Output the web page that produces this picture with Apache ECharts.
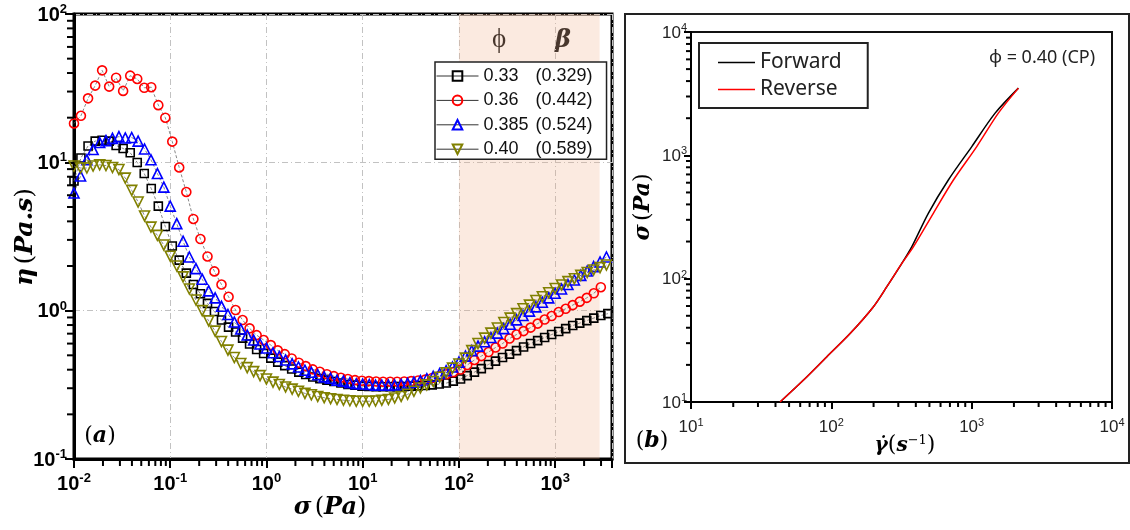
<!DOCTYPE html>
<html>
<head>
<meta charset="utf-8">
<script src="https://cdn.jsdelivr.net/npm/echarts@6/dist/echarts.min.js"></script>
<style>
  html, body { margin: 0; padding: 0; background: #fff; }
  #chart { width: 1130px; height: 530px; }
</style>
</head>
<body>
<div id="chart"></div>
<script>
// ---------- Panel (a): viscosity η vs shear stress σ ----------
const phiLabels  = ['0.33', '0.36', '0.385', '0.40'];
const betaLabels = ['(0.329)', '(0.442)', '(0.524)', '(0.589)'];

// stress ramp used for φ = 0.33 and 0.36 (Pa)
const stressA = [
  0.01, 0.0118, 0.014, 0.0166, 0.0196, 0.0232, 0.0274, 0.0324, 0.0384, 0.0454,
  0.0537, 0.0635, 0.0752, 0.0889, 0.105, 0.124, 0.147, 0.174, 0.206, 0.244,
  0.288, 0.341, 0.404, 0.478, 0.565, 0.668, 0.791, 0.935, 1.11, 1.31,
  1.55, 1.83, 2.17, 2.56, 3.03, 3.59, 4.25, 5.02, 5.94, 7.03,
  8.32, 9.84, 11.6, 13.8, 16.3, 19.3, 22.8, 27.0, 31.9, 37.8,
  44.7, 52.8, 62.5, 74.0, 87.5, 104, 122, 145, 171, 203,
  240, 284, 336, 397, 470, 556, 658, 778, 920, 1089,
  1288, 1524, 1803, 2133, 2523, 2985, 3532
];
// stress ramp used for φ = 0.385 and 0.40 (Pa)
const stressB = [
  0.01, 0.0117, 0.0136, 0.0158, 0.0185, 0.0215, 0.0251, 0.0293, 0.0341, 0.0398,
  0.0464, 0.0541, 0.0631, 0.0736, 0.0858, 0.1, 0.117, 0.136, 0.158, 0.185,
  0.215, 0.251, 0.293, 0.341, 0.398, 0.464, 0.541, 0.631, 0.736, 0.858,
  1, 1.17, 1.36, 1.58, 1.85, 2.15, 2.51, 2.93, 3.41, 3.98,
  4.64, 5.41, 6.31, 7.36, 8.58, 10, 11.7, 13.6, 15.8, 18.5,
  21.5, 25.1, 29.3, 34.1, 39.8, 46.4, 54.1, 63.1, 73.6, 85.8,
  100, 117, 136, 158, 185, 215, 251, 293, 341, 398,
  464, 541, 631, 736, 858, 1000, 1166, 1359, 1585, 1848,
  2154, 2512, 2929, 3415
];

const eta033 = [
  7.48, 10.7, 12.9, 13.9, 14.1, 13.9, 13.0, 12.4, 11.6, 9.97,
  8.40, 6.66, 5.07, 3.69, 2.73, 2.19, 1.79, 1.50, 1.30, 1.12,
  0.986, 0.865, 0.775, 0.718, 0.653, 0.596, 0.547, 0.514, 0.479, 0.450,
  0.426, 0.404, 0.385, 0.371, 0.357, 0.348, 0.340, 0.333, 0.325, 0.318,
  0.315, 0.310, 0.308, 0.307, 0.307, 0.307, 0.307, 0.308, 0.310, 0.311,
  0.313, 0.316, 0.320, 0.325, 0.335, 0.346, 0.365, 0.385, 0.407, 0.434,
  0.457, 0.483, 0.509, 0.538, 0.569, 0.600, 0.628, 0.659, 0.690, 0.723,
  0.757, 0.794, 0.824, 0.857, 0.891, 0.927, 0.955
];
const eta036 = [
  18.3, 20.6, 27.0, 32.9, 41.7, 32.4, 37.2, 30.3, 38.4, 36.5,
  31.8, 32.1, 24.3, 20.0, 13.8, 9.23, 6.31, 4.15, 3.04, 2.32,
  1.84, 1.50, 1.24, 1.01, 0.865, 0.760, 0.684, 0.634, 0.586, 0.540,
  0.509, 0.476, 0.446, 0.423, 0.402, 0.387, 0.373, 0.362, 0.353, 0.346,
  0.340, 0.337, 0.335, 0.333, 0.332, 0.332, 0.332, 0.333, 0.335, 0.338,
  0.343, 0.352, 0.362, 0.373, 0.385, 0.401, 0.430, 0.465, 0.494, 0.526,
  0.564, 0.600, 0.649, 0.690, 0.728, 0.769, 0.818, 0.871, 0.920, 0.979,
  1.03, 1.09, 1.15, 1.22, 1.31, 1.44
];
const eta0385 = [
  6.21, 8.09, 10.4, 12.2, 13.6, 14.0, 14.5, 14.9, 14.6, 14.7,
  13.9, 12.3, 10.4, 8.40, 6.81, 5.07, 3.86, 2.94, 2.30, 1.92,
  1.63, 1.36, 1.22, 1.07, 0.942, 0.838, 0.752, 0.685, 0.634, 0.596,
  0.560, 0.520, 0.491, 0.465, 0.438, 0.417, 0.397, 0.384, 0.370, 0.358,
  0.350, 0.340, 0.335, 0.327, 0.322, 0.320, 0.318, 0.315, 0.315, 0.315,
  0.315, 0.318, 0.324, 0.330, 0.338, 0.348, 0.361, 0.377, 0.394, 0.417,
  0.450, 0.494, 0.538, 0.577, 0.617, 0.659, 0.706, 0.757, 0.809, 0.867,
  0.927, 0.993, 1.06, 1.14, 1.22, 1.31, 1.40, 1.50, 1.61, 1.73,
  1.85, 1.98, 2.13, 2.30
];
const eta040 = [
  9.44, 9.16, 9.16, 9.44, 9.62, 9.51, 9.23, 8.94, 7.83, 6.47,
  5.40, 4.35, 3.66, 3.22, 2.77, 2.33, 2.00, 1.69, 1.40, 1.18,
  1.00, 0.853, 0.728, 0.619, 0.542, 0.483, 0.440, 0.413, 0.388, 0.365,
  0.346, 0.330, 0.318, 0.306, 0.296, 0.286, 0.277, 0.271, 0.264, 0.259,
  0.255, 0.252, 0.249, 0.247, 0.245, 0.245, 0.245, 0.246, 0.249, 0.252,
  0.258, 0.264, 0.273, 0.286, 0.301, 0.316, 0.333, 0.356, 0.381, 0.410,
  0.437, 0.479, 0.538, 0.600, 0.653, 0.706, 0.764, 0.832, 0.891, 0.955,
  1.03, 1.09, 1.17, 1.24, 1.32, 1.41, 1.49, 1.57, 1.64, 1.73,
  1.81, 1.88, 1.95, 2.03
];

// shaded shear-thickening band (Pa)
const bandStress = [100, 2900];

// ---------- Panel (b): flow curve, forward / reverse ramp ----------
const rateFwd   = [43.1, 63.1, 92.6, 136, 199, 248, 318, 374, 491, 682, 1002, 1469, 2153];
const stressFwd = [10.0, 15.0, 23.2, 35.9, 59.0, 85.7, 133, 181, 339, 631, 1178, 2198, 3508];
const rateRev   = [43.1, 63.1, 92.6, 136, 199, 248, 318, 384, 533, 741, 1087, 1549, 2153];
const stressRev = [10.0, 15.0, 23.2, 35.9, 59.0, 85.7, 133, 181, 339, 631, 1178, 2198, 3508];

// axis decades (exponents of the labelled ticks)
const decadesAX = [-2, -1, 0, 1, 2, 3];
const decadesAY = [-1, 0, 1, 2];
const decadesBX = [1, 2, 3, 4];
const decadesBY = [1, 2, 3, 4];
const minorMantissas = [2, 3, 4, 5, 6, 7, 8, 9];

const pairs = (xs, ys) => ys.map((y, i) => [xs[i], y]);

// "10" with a raised exponent, only on whole decades
function decadeFormatter(decades) {
  return function (v) {
    const lg = Math.log10(v);
    const e = Math.round(lg);
    if (Math.abs(lg - e) > 1e-6 || decades.indexOf(e) < 0) return '';
    return '{b|10}{s|' + (e < 0 ? '-' + (-e) : String(e)) + '}';
  };
}

// minor tick positions 2..9 within each decade
function minorValues(decades, lo, hi) {
  const out = [];
  for (let d = decades[0] - 1; d <= decades[decades.length - 1]; d++) {
    minorMantissas.forEach(m => {
      const v = m * Math.pow(10, d);
      if (v > lo && v < hi) out.push(v);
    });
  }
  return out;
}

// short outward tick strokes placed through the axis scale
function minorTicks(xi, yi, pts, dir, len, width) {
  return {
    type: 'custom', xAxisIndex: xi, yAxisIndex: yi, data: pts,
    silent: true, clip: false, z: 6,
    renderItem: function (params, api) {
      const p = api.coord([api.value(0), api.value(1)]);
      const shape = dir === 'down'
        ? { x1: p[0], y1: p[1], x2: p[0], y2: p[1] + len }
        : { x1: p[0], y1: p[1], x2: p[0] - len, y2: p[1] };
      return { type: 'line', shape: shape, style: { stroke: '#000', lineWidth: width } };
    }
  };
}

const A_XMIN = 0.01, A_XMAX = 3900, A_YMIN = 0.1, A_YMAX = 100;
const B_MIN = 10, B_MAX = 10000;

const boldLabelRich = {
  b: { fontSize: 20, fontWeight: 'bold', fontFamily: '"Liberation Sans", Arial', color: '#000', verticalAlign: 'bottom', padding: [2, 0, 0, 0] },
  s: { fontSize: 13, fontWeight: 'bold', fontFamily: '"Liberation Sans", Arial', color: '#000', verticalAlign: 'top' }
};
const thinLabelRich = {
  b: { fontSize: 17, fontFamily: '"Liberation Sans Narrow", "Liberation Sans", Arial', color: '#222', verticalAlign: 'bottom', padding: [2, 0, 0, 0] },
  s: { fontSize: 11, fontFamily: '"Liberation Sans Narrow", "Liberation Sans", Arial', color: '#222', verticalAlign: 'top' }
};

const splitDash = { show: true, lineStyle: { color: '#c2c2c2', width: 1, type: [6, 3, 1, 3] } };

const markerSeries = [
  { name: phiLabels[0], data: pairs(stressA, eta033), symbol: 'rect', symbolSize: 8, color: '#000000' },
  { name: phiLabels[1], data: pairs(stressA, eta036), symbol: 'circle', symbolSize: 9, color: '#ff0000' },
  { name: phiLabels[2], data: pairs(stressB, eta0385), symbol: 'triangle', symbolSize: 10, color: '#0000ff' },
  { name: phiLabels[3], data: pairs(stressB, eta040), symbol: 'triangle', symbolSize: 10, color: '#808000', rotate: 180 }
].map(s => ({
  type: 'line', name: s.name, xAxisIndex: 0, yAxisIndex: 0, data: s.data,
  symbol: s.symbol, symbolSize: s.symbolSize, symbolRotate: s.rotate || 0,
  showSymbol: true, z: 3,
  itemStyle: { color: 'rgba(255,255,255,0)', borderColor: s.color, borderWidth: 1.6 },
  lineStyle: { color: '#6a6a6a', width: 0.8, type: [3, 2] },
  emphasis: { disabled: true }
}));

const axisNameRich = size => ({
  i: { fontSize: size, fontStyle: 'italic', fontWeight: 'bold', fontFamily: '"DejaVu Serif"', fill: '#000' },
  p: { fontSize: size, fontFamily: '"DejaVu Serif"', fill: '#000' }
});

const option = {
  animation: false,
  backgroundColor: '#ffffff',
  grid: [
    { left: 74, top: 14, width: 538, height: 445, show: true, borderColor: '#000', borderWidth: 3, backgroundColor: 'rgba(0,0,0,0)' },
    { left: 691, top: 32, width: 421, height: 370, show: true, borderColor: '#111', borderWidth: 2, backgroundColor: 'rgba(0,0,0,0)' }
  ],
  xAxis: [
    {
      gridIndex: 0, type: 'log', logBase: 10, min: A_XMIN, max: A_XMAX,
      axisLine: { show: true, lineStyle: { color: '#000', width: 3 } },
      axisTick: { show: true, inside: false, length: 9, lineStyle: { color: '#000', width: 2 } },
      axisLabel: { margin: 13, formatter: decadeFormatter(decadesAX), rich: boldLabelRich },
      splitLine: splitDash
    },
    {
      gridIndex: 1, type: 'log', logBase: 10, min: B_MIN, max: B_MAX,
      axisLine: { show: true, lineStyle: { color: '#000', width: 2 } },
      axisTick: { show: true, inside: false, length: 7, lineStyle: { color: '#000', width: 2 } },
      axisLabel: { margin: 15, formatter: decadeFormatter(decadesBX), rich: thinLabelRich },
      splitLine: { show: false }
    }
  ],
  yAxis: [
    {
      gridIndex: 0, type: 'log', logBase: 10, min: A_YMIN, max: A_YMAX,
      axisLine: { show: true, lineStyle: { color: '#000', width: 3 } },
      axisTick: { show: true, inside: false, length: 9, lineStyle: { color: '#000', width: 2 } },
      axisLabel: { margin: 7, formatter: decadeFormatter(decadesAY), rich: boldLabelRich },
      splitLine: splitDash
    },
    {
      gridIndex: 1, type: 'log', logBase: 10, min: B_MIN, max: B_MAX,
      axisLine: { show: true, lineStyle: { color: '#000', width: 2 } },
      axisTick: { show: true, inside: false, length: 7, lineStyle: { color: '#000', width: 2 } },
      axisLabel: { margin: 4, formatter: decadeFormatter(decadesBY), rich: thinLabelRich },
      splitLine: { show: false }
    }
  ],
  legend: [
    {
      data: phiLabels, orient: 'vertical', left: 435, top: 62,
      padding: [5, 14, 1, 1], itemWidth: 42, itemHeight: 12, itemGap: 6.4,
      backgroundColor: '#ffffff', borderColor: '#222', borderWidth: 1.5, borderRadius: 0,
      selectedMode: false,
      lineStyle: { color: '#333', width: 1, type: 'solid' },
      formatter: name => '{a|' + name + '}{b|' + betaLabels[phiLabels.indexOf(name)] + '}',
      textStyle: {
        fontSize: 18, fontFamily: '"Liberation Sans", Arial', color: '#111', lineHeight: 18,
        rich: {
          a: { width: 52, fontSize: 18, fontFamily: '"Liberation Sans", Arial', color: '#111' },
          b: { fontSize: 18, fontFamily: '"Liberation Sans", Arial', color: '#111' }
        }
      }
    },
    {
      data: ['Forward', 'Reverse'], orient: 'vertical', left: 699, top: 43,
      padding: [9, 26, 8, 19], itemWidth: 37, itemHeight: 1.6, itemGap: 6,
      icon: 'rect',
      backgroundColor: '#ffffff', borderColor: '#222', borderWidth: 2, borderRadius: 0,
      selectedMode: false,
      textStyle: { fontSize: 21, fontFamily: '"Noto Sans", sans-serif', color: '#222', lineHeight: 20 }
    }
  ],
  series: [
    {
      type: 'line', name: 'band', xAxisIndex: 0, yAxisIndex: 0, data: [], z: 1, silent: true,
      markArea: {
        silent: true,
        itemStyle: { color: 'rgba(240,170,130,0.25)' },
        data: [[{ xAxis: bandStress[0] }, { xAxis: bandStress[1] }]]
      }
    },
    ...markerSeries,
    {
      type: 'line', name: 'Forward', xAxisIndex: 1, yAxisIndex: 1,
      data: pairs(rateFwd, stressFwd), symbol: 'none', smooth: 0.3, z: 3,
      itemStyle: { color: '#000' }, lineStyle: { color: '#000', width: 1.5 }
    },
    {
      type: 'line', name: 'Reverse', xAxisIndex: 1, yAxisIndex: 1,
      data: pairs(rateRev, stressRev), symbol: 'none', smooth: 0.3, z: 4,
      itemStyle: { color: '#ff0000' }, lineStyle: { color: '#ff0000', width: 1.5 }
    },
    minorTicks(0, 0, minorValues(decadesAX, A_XMIN, A_XMAX).map(v => [v, A_YMIN]), 'down', 7, 2),
    minorTicks(0, 0, minorValues(decadesAY, A_YMIN, A_YMAX).map(v => [A_XMIN, v]), 'left', 7, 2),
    minorTicks(1, 1, minorValues(decadesBX, B_MIN, B_MAX).map(v => [v, B_MIN]), 'down', 5, 2),
    minorTicks(1, 1, minorValues(decadesBY, B_MIN, B_MAX).map(v => [B_MIN, v]), 'left', 5, 2)
  ],
  graphic: [
    // outer frame of panel (b)
    { type: 'rect', silent: true, shape: { x: 625, y: 14, width: 504, height: 449 },
      style: { fill: 'none', stroke: '#222', lineWidth: 2 } },
    // column headers above the legend of panel (a)
    { type: 'text', x: 499, y: 40, silent: true,
      style: { text: 'ϕ', fontSize: 27, fontFamily: '"Liberation Serif", "DejaVu Serif"', fill: '#111', align: 'center', verticalAlign: 'middle' } },
    { type: 'text', x: 563, y: 41, silent: true,
      style: { text: 'β', fontSize: 24, fontStyle: 'italic', fontWeight: 'bold', fontFamily: '"DejaVu Serif"', fill: '#111', align: 'center', verticalAlign: 'middle' } },
    // panel tags
    { type: 'text', x: 100, y: 436, silent: true,
      style: { text: '{p|(}{i|a}{p|)}', align: 'center', verticalAlign: 'middle', rich: axisNameRich(22) } },
    { type: 'text', x: 652, y: 441, silent: true,
      style: { text: '{p|(}{i|b}{p|)}', align: 'center', verticalAlign: 'middle', rich: axisNameRich(22) } },
    // axis titles of panel (a)
    { type: 'text', x: 25, y: 237, rotation: Math.PI / 2, silent: true,
      style: { text: '{i|η} {p|(}{i|Pa.s}{p|)}', align: 'center', verticalAlign: 'middle', rich: axisNameRich(25) } },
    { type: 'text', x: 330, y: 508, silent: true,
      style: { text: '{i|σ} {p|(}{i|Pa}{p|)}', align: 'center', verticalAlign: 'middle', rich: axisNameRich(24) } },
    // axis titles of panel (b)
    { type: 'text', x: 643, y: 207, rotation: Math.PI / 2, silent: true,
      style: { text: '{i|σ} {p|(}{i|Pa}{p|)}', align: 'center', verticalAlign: 'middle', rich: axisNameRich(22) } },
    { type: 'text', x: 905, y: 445, silent: true,
      style: { text: '{i|γ̇}{p|(}{i|s}{s|−1}{p|)}', align: 'center', verticalAlign: 'middle',
        rich: { i: { fontSize: 20, fontStyle: 'italic', fontWeight: 'bold', fontFamily: '"DejaVu Serif"', fill: '#000', verticalAlign: 'bottom' },
                p: { fontSize: 22, fontFamily: '"DejaVu Serif"', fill: '#000', verticalAlign: 'bottom' },
                s: { fontSize: 13, fontFamily: '"DejaVu Serif"', fill: '#000', verticalAlign: 'top' } } } },
    // sample annotation in panel (b)
    { type: 'text', x: 1042, y: 58, silent: true,
      style: { text: 'ϕ = 0.40 (CP)', fontSize: 18, fontFamily: '"Noto Sans", sans-serif', fill: '#222', align: 'center', verticalAlign: 'middle' } }
  ]
};

const chart = echarts.init(document.getElementById('chart'), null, { renderer: 'canvas' });
chart.setOption(option);
</script>
</body>
</html>
